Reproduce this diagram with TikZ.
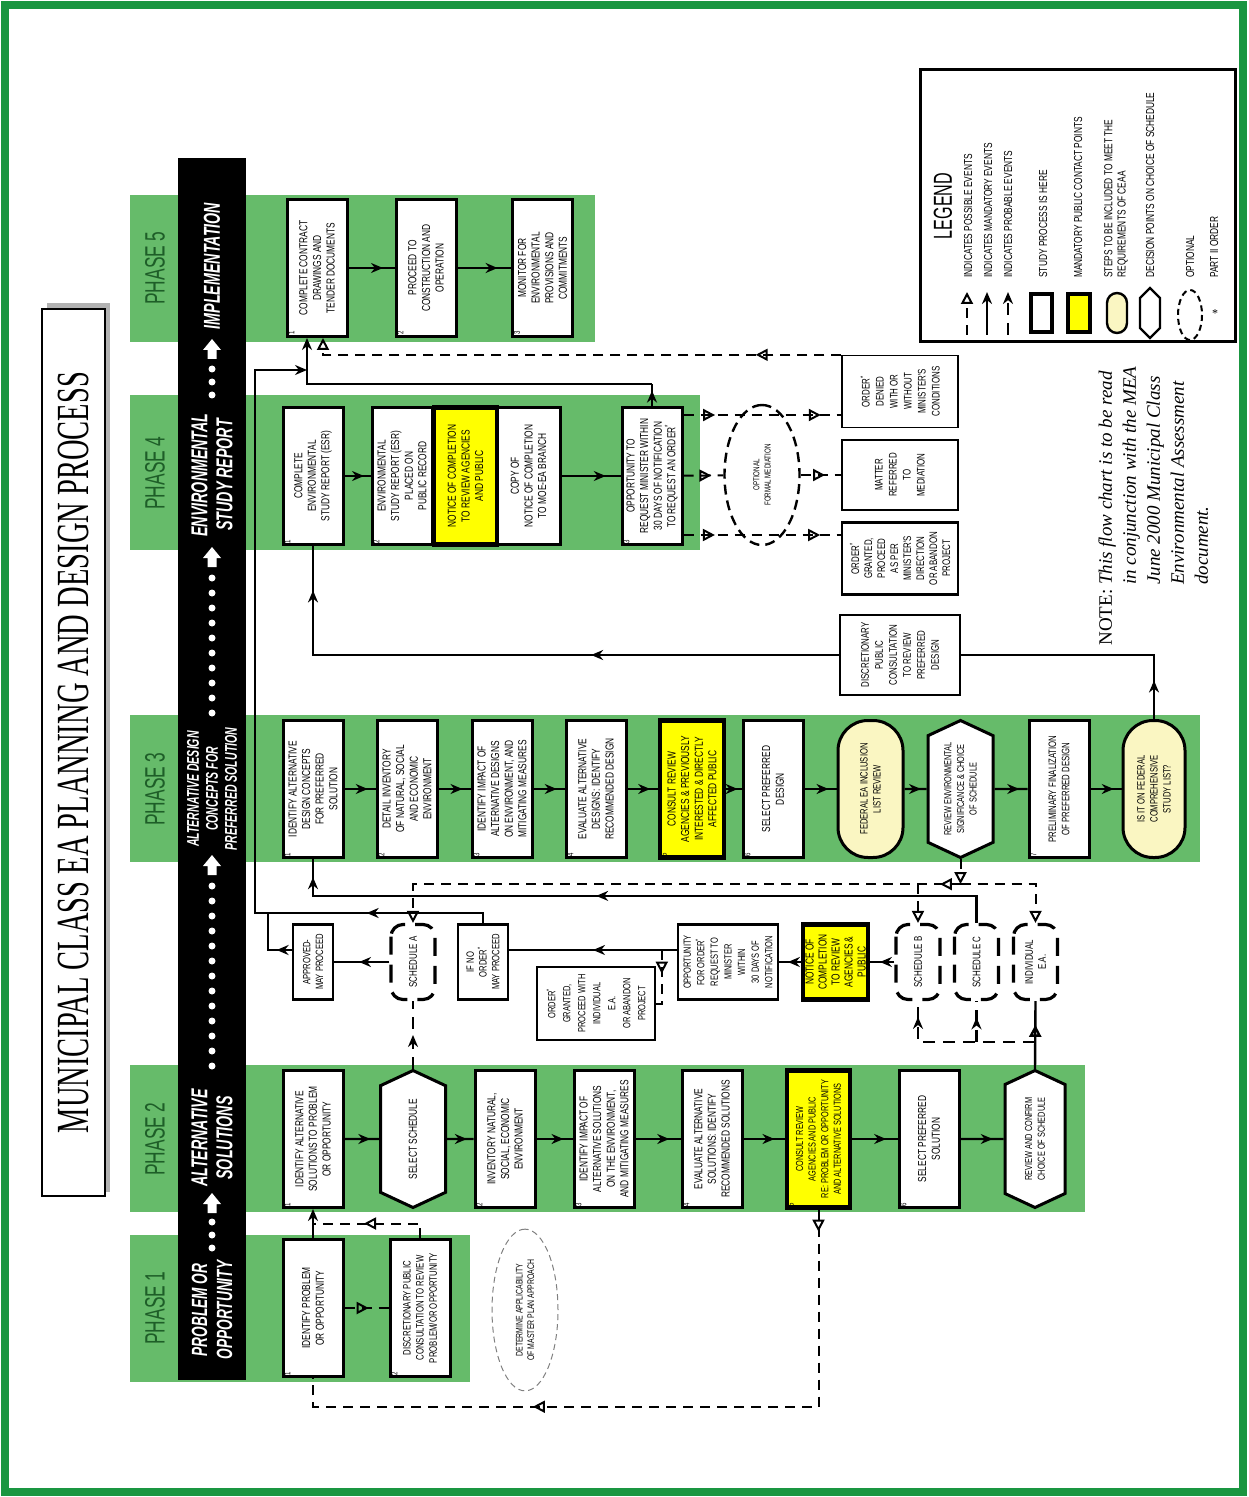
\documentclass[tikz,border=0pt]{standalone}
\usepackage{fontspec}
\setmainfont{Liberation Serif}
\newfontfamily\narsf[FakeStretch=0.72]{Liberation Sans}
\newfontfamily\consf[FakeStretch=0.62]{Liberation Sans}
\usetikzlibrary{shapes.symbols,shapes.geometric,arrows.meta,decorations.markings,calc}
\definecolor{band}{HTML}{66BB6A}
\definecolor{edgegreen}{HTML}{1A9641}
\definecolor{phgreen}{HTML}{1E5E28}
\definecolor{cream}{HTML}{FAF6C2}
\definecolor{ylw}{HTML}{FFFF00}
\newcommand{\fsz}[2]{\fontsize{#1}{#2}\selectfont}

\begin{document}
\begin{tikzpicture}[x=0.5pt,y=-0.5pt,
  box/.style={draw,line width=1.5pt,fill=white,rotate=90,align=center,font=\narsf\fsz{5.8}{6.8},inner sep=1pt,minimum width=68.5pt,minimum height=30pt},
  ybox/.style={box,fill=ylw,line width=2.2pt},
  cbox/.style={box,fill=cream,rounded corners=15pt,font=\narsf\fsz{5.3}{6.5}},
  hbox/.style={box,signal,signal to=east and west,signal pointer angle=130,font=\narsf\fsz{5.1}{6.3}},
  sbox/.style={draw,line width=1.2pt,fill=white,rotate=90,align=center,font=\narsf\fsz{5.3}{6.4},inner sep=1pt,minimum width=37.5pt,minimum height=20pt},
  obox/.style={sbox,line width=.7pt,font=\narsf\fsz{5.5}{7},minimum width=36pt,minimum height=58pt},
  sched/.style={draw,line width=1.6pt,dash pattern=on 9pt off 5pt,rounded corners=6pt,rotate=90,align=center,font=\narsf\fsz{5.5}{6.5},inner sep=1pt,minimum width=37.5pt,minimum height=22pt},
  num/.style={label={[rotate=90,anchor=north west,font=\narsf\fsz{4.2}{4.5},inner sep=1.3pt]north west:#1}},
  ph/.style={rotate=90,text=phgreen,font=\consf\fsz{14}{14}},
  bart/.style={rotate=90,text=white,align=center,inner sep=0pt,font=\consf\bfseries\itshape\fsz{11.5}{12.5}},
  legt/.style={rotate=90,anchor=west,align=left,inner sep=0pt,font=\narsf\fsz{5.8}{6.6}},
  mand/.style={line width=1.2pt},
  poss/.style={line width=1pt,dash pattern=on 5pt off 3.5pt},
  prob/.style={line width=1.2pt,dash pattern=on 6pt off 4pt},
  fa/.style={postaction={decorate,decoration={markings,mark=at position #1 with {\pgfsetdash{}{0pt}\arrow{Stealth[length=6pt,width=5pt]}}}}},
  oa/.style={postaction={decorate,decoration={markings,mark=at position #1 with {\pgfsetdash{}{0pt}\arrow{Triangle[open,length=6pt,width=6pt]}}}}},
  ftip/.style={-{Stealth[length=6pt,width=5pt]}},
  otip/.style={-{Triangle[open,length=6pt,width=6pt]}}]
\useasboundingbox (0,0) rectangle (1248,1497);
\draw[edgegreen,line width=4pt] (5,5) rectangle (1243,1492);
% title
\fill[gray!60] (47,303) rectangle (110,1192);
\node[draw,thick,fill=white,rotate=90,minimum width=443.5pt,minimum height=31.5pt,font=\fsz{23}{23}] (ttl) at (73.5,752.5) {\scalebox{0.62}[1]{MUNICIPAL CLASS EA PLANNING AND DESIGN PROCESS}};
% phase bands and black bar
\fill[band] (130,195) rectangle (595,342);\fill[band] (130,395) rectangle (700,550);\fill[band] (130,715) rectangle (1200,862);
\fill[band] (130,1065) rectangle (1085,1212);\fill[band] (130,1235) rectangle (470,1382);
\node[ph] at (155,268) {PHASE 5};\node[ph] at (155,473) {PHASE 4};\node[ph] at (155,789) {PHASE 3};\node[ph] at (155,1139) {PHASE 2};\node[ph] at (155,1308) {PHASE 1};
\fill (178,158) rectangle (246,1380);
\node[bart] at (212,266) {IMPLEMENTATION};
\node[bart] at (212,475) {ENVIRONMENTAL\\STUDY REPORT};
\node[bart,font=\consf\bfseries\itshape\fsz{8.5}{9.5}] at (212,789) {ALTERNATIVE DESIGN\\CONCEPTS FOR\\PREFERRED SOLUTION};
\node[bart] at (212,1138) {ALTERNATIVE\\SOLUTIONS};
\node[bart,font=\consf\bfseries\itshape\fsz{11}{12.5}] at (212,1310) {PROBLEM OR\\OPPORTUNITY};
\foreach \y in {369,382,395,578,593,...,713,886,901,...,1066,1222,1235,1248} \fill[white] (212,\y) circle[radius=3.5];
\foreach \t in {339,547,855,1193} \fill[white] (212,\t) -- ++(9,11) -- ++(-4.5,0) -- ++(0,9) -- ++(-9,0) -- ++(0,-9) -- ++(-4.5,0) -- cycle;
% phase 5
\node[box,num=1] (p5a) at (317,268) {COMPLETE CONTRACT\\DRAWINGS AND\\TENDER DOCUMENTS};
\node[box,num=2] (p5b) at (426,268) {PROCEED TO\\CONSTRUCTION AND\\OPERATION};
\node[box,num=3] (p5c) at (542.5,268) {MONITOR FOR\\ENVIRONMENTAL\\PROVISIONS AND\\COMMITMENTS};
% phase 4
\node[box,num=1] (p4a) at (313,476) {COMPLETE\\ENVIRONMENTAL\\STUDY REPORT (ESR)};
\node[box,num=2] (p4b) at (402,476) {ENVIRONMENTAL\\STUDY REPORT (ESR)\\PLACED ON\\PUBLIC RECORD};
\node[ybox,minimum height=31.5pt] (p4n) at (465.5,476) {NOTICE OF COMPLETION\\TO REVIEW AGENCIES\\AND PUBLIC};
\node[box,minimum height=31.5pt] (p4c) at (528.5,476) {COPY OF\\NOTICE OF COMPLETION\\TO MOE-EA BRANCH};
\node[box,num=3] (p4d) at (652,476) {OPPORTUNITY TO\\REQUEST MINISTER WITHIN\\30 DAYS OF NOTIFICATION\\TO REQUEST AN ORDER\textsuperscript{*}};
\node[ellipse,draw,line width=1.2pt,dash pattern=on 5pt off 3pt,rotate=90,minimum width=70pt,minimum height=37.5pt,align=center,font=\narsf\fsz{4.3}{5.6}] (med) at (762,475) {OPTIONAL\\FORMAL MEDIATION};
\node[obox] (ordd) at (900,391.5) {ORDER\textsuperscript{*}\\DENIED\\WITH OR\\WITHOUT\\MINISTER'S\\CONDITIONS};
\node[obox,minimum width=35pt] (mat) at (900,475) {MATTER\\REFERRED\\TO\\MEDIATION};
\node[obox,line width=1.4pt,font=\narsf\fsz{5.5}{6.5}] (ordgr) at (900,558.5) {ORDER\textsuperscript{*}\\GRANTED,\\PROCEED\\AS PER\\MINISTER'S\\DIRECTION\\OR ABANDON\\PROJECT};
\node[obox,line width=1.4pt,minimum width=40pt,minimum height=60pt] (disc) at (900,655) {DISCRETIONARY\\PUBLIC\\CONSULTATION\\TO REVIEW\\PREFERRED\\DESIGN};
% phase 3
\node[box,num=1] (p3a) at (313,789) {IDENTIFY ALTERNATIVE\\DESIGN CONCEPTS\\FOR PREFERRED\\SOLUTION};
\node[box,num=2] (p3b) at (407,789) {DETAIL INVENTORY\\OF NATURAL, SOCIAL\\AND ECONOMIC\\ENVIRONMENT};
\node[box,num=3] (p3c) at (502,789) {IDENTIFY IMPACT OF\\ALTERNATIVE DESIGNS\\ON ENVIRONMENT, AND\\MITIGATING MEASURES};
\node[box,num=4] (p3d) at (596,789) {EVALUATE ALTERNATIVE\\DESIGNS: IDENTIFY\\RECOMMENDED DESIGN};
\node[ybox,num=5,minimum height=32pt] (p3e) at (692,789) {CONSULT REVIEW\\AGENCIES \& PREVIOUSLY\\INTERESTED \& DIRECTLY\\AFFECTED PUBLIC};
\node[box,num=6] (p3f) at (773,789) {SELECT PREFERRED\\DESIGN};
\node[cbox,minimum height=32.5pt] (p3g) at (870.5,789) {FEDERAL EA INCLUSION\\LIST REVIEW};
\node[hbox,minimum height=32.5pt] (p3h) at (960.5,789) {REVIEW ENVIRONMENTAL\\SIGNIFICANCE \& CHOICE\\OF SCHEDULE};
\node[box,num=7,font=\narsf\fsz{5.4}{6.6}] (p3i) at (1059,789) {PRELIMINARY FINALIZATION\\OF PREFERRED DESIGN};
\node[cbox,minimum height=31pt] (p3j) at (1154,789) {IS IT ON FEDERAL\\COMPREHENSIVE\\STUDY LIST?};
% phase 2
\node[box,num=1] (p2a) at (313,1139) {IDENTIFY ALTERNATIVE\\SOLUTIONS TO PROBLEM\\OR OPPORTUNITY};
\node[hbox,minimum height=32.5pt,font=\narsf\fsz{5.8}{6.8}] (p2b) at (413,1139) {SELECT SCHEDULE};
\node[box,num=2] (p2c) at (505,1139) {INVENTORY NATURAL,\\SOCIAL, ECONOMIC\\ENVIRONMENT};
\node[box,num=3] (p2d) at (604,1139) {IDENTIFY IMPACT OF\\ALTERNATIVE SOLUTIONS\\ON THE ENVIRONMENT,\\AND MITIGATING MEASURES};
\node[box,num=4] (p2e) at (712,1139) {EVALUATE ALTERNATIVE\\SOLUTIONS: IDENTIFY\\RECOMMENDED SOLUTIONS};
\node[ybox,num=5,minimum height=31.5pt,font=\narsf\fsz{5.1}{6.3}] (p2f) at (818.5,1139) {CONSULT REVIEW\\AGENCIES AND PUBLIC\\RE: PROBLEM OR OPPORTUNITY\\AND ALTERNATIVE SOLUTIONS};
\node[box,num=6] (p2g) at (929,1139) {SELECT PREFERRED\\SOLUTION};
\node[hbox] (p2h) at (1035,1139) {REVIEW AND CONFIRM\\CHOICE OF SCHEDULE};
% phase 1
\node[box,num=1] (p1a) at (313,1308) {IDENTIFY PROBLEM\\OR OPPORTUNITY};
\node[box,num=2,font=\narsf\fsz{5.4}{6.6}] (p1b) at (420,1308) {DISCRETIONARY PUBLIC\\CONSULTATION TO REVIEW\\PROBLEM/OR OPPORTUNITY};
\node[ellipse,draw=gray,line width=.5pt,dash pattern=on 3pt off 2pt,rotate=90,minimum width=75pt,minimum height=33pt,align=center,font=\narsf\fsz{4.8}{5.8}] (mpa) at (525,1310) {DETERMINE APPLICABILITY\\OF MASTER PLAN APPROACH};
% schedules and orders
\node[sbox] (apr) at (313,962) {APPROVED-\\MAY PROCEED};
\node[sched] (schA) at (413,962) {SCHEDULE A};
\node[sbox,minimum height=25pt] (ifno) at (483,962) {IF NO\\ORDER\textsuperscript{*}\\MAY PROCEED};
\node[sbox,minimum width=36.5pt,minimum height=59pt,font=\narsf\fsz{5.2}{7.5}] (ordg) at (596,1003.5) {ORDER\textsuperscript{*}\\GRANTED,\\PROCEED WITH\\INDIVIDUAL\\E.A.\\OR ABANDON\\PROJECT};
\node[sbox,minimum height=50pt,font=\narsf\fsz{5.2}{6.8}] (opp) at (728,962) {OPPORTUNITY\\FOR ORDER\textsuperscript{*}\\REQUEST TO\\MINISTER\\WITHIN\\30 DAYS OF\\NOTIFICATION};
\node[sbox,fill=ylw,line width=2.2pt,minimum height=32.5pt,font=\narsf\fsz{5.8}{6.5}] (noc) at (835.5,962) {NOTICE OF\\COMPLETION\\TO REVIEW\\AGENCIES \&\\PUBLIC};
\node[sched] (schB) at (918,962) {SCHEDULE B};
\node[sched] (schC) at (976.5,962) {SCHEDULE C};
\node[sched] (iea) at (1035.5,962) {INDIVIDUAL\\E.A.};
% connectors in the phases
\draw[mand,fa=.75] (p5a)--(p5b);\draw[mand,fa=.75] (p5b)--(p5c);
\draw[mand,fa=.75] (p4a)--(p4b);\draw[mand,fa=.75] (p4c)--(p4d);
\draw[mand,fa=.75] (p3a)--(p3b);\draw[mand,fa=.75] (p3b)--(p3c);\draw[mand,fa=.75] (p3c)--(p3d);\draw[mand,fa=.75] (p3d)--(p3e);\draw[mand,fa=.75] (p3e)--(p3f);
\draw[mand,fa=.75] (p3f)--(p3g);\draw[mand,fa=.75] (p3g)--(p3h);\draw[mand,fa=.75] (p3h)--(p3i);\draw[mand,fa=.75] (p3i)--(p3j);
\draw[mand,fa=.75] (p2a)--(p2b);\draw[mand,fa=.75] (p2b)--(p2c);\draw[mand,fa=.75] (p2c)--(p2d);\draw[mand,fa=.75] (p2d)--(p2e);
\draw[mand,fa=.75] (p2e)--(p2f);\draw[mand,fa=.75] (p2f)--(p2g);\draw[mand,fa=.75] (p2g)--(p2h);
% phase 1 to phase 2
\draw[mand,ftip] (p1a.east)--(p2a.west);
\coordinate (m12) at ($(p1a.east)!.5!(p2a.west)$);
\draw[poss,oa=.58] (p1b.east) |- (m12);
\draw[poss,oa=.55] (p1a)--(p1b);
\draw[poss,oa=.03,oa=.66] (p2f.west) -- ++(0,197) -| (p1a.west);
% schedules
\draw[prob,fa=.5] (p2b.east)--(schA.west);
\draw[mand,oa=.65] (p2h.east)--(iea.west);
\draw[prob,fa=.9] ($(p2h.east)+(0,-27)$) coordinate (dk) -| (schB.west);
\draw[prob,fa=.6] (schC.west |- dk)--(schC.west);
\draw[poss,otip] (p3h.west) -- ++(0,25) coordinate (dj);
\draw[poss,oa=.035,otip] (dj) -| (schA.east);
\draw[poss,otip] (dj) -| (iea.east);
\draw[poss,otip] (schB.east |- dj)--(schB.east);
\draw[mand,fa=.55] (schA)--(apr);
\draw[mand,fa=.6] (schB)--(noc);\draw[mand,fa=.6] (noc)--(opp);
\draw[mand,fa=.5] ([yshift=6pt]opp.north)--([yshift=6pt]ifno.south);
\draw[poss,oa=.4] ([xshift=-7.5pt,yshift=6pt]opp.north) |- (ordg.south);
\draw[mand,fa=.56,fa=.975] (schC.east) -- ++(0,-27) -| (p3a.west);
% to phase 4 and 5
\coordinate (bus) at (255,913);\coordinate (bus2) at (268,913);\coordinate (j5) at (307,370);
\draw[mand,fa=.152,ftip] (ifno.east) |- (bus) -- (bus |- j5) -- (j5);
\draw[mand,fa=.25] ([yshift=6pt]apr.north) -| (bus2);
\draw[mand,fa=.15] (p3j.east) |- (disc.south);
\draw[mand,fa=.39,fa=.93] (disc.north) -| (p4a.west);
\draw[mand,fa=.7] (p4d.east) -- ++(0,-22) coordinate (c4);
\draw[mand,ftip] (c4) -| ([xshift=-5pt]p5a.west);
\draw[poss,oa=.2,oa=.87] ($(p4d.south)+(0,-61)$) coordinate (t1) -- (ordd.north |- t1);
\draw[poss,oa=.7] (p4d)--(med);\draw[poss,oa=.6] (med)--(mat);
\draw[poss,oa=.2,oa=.87] ($(p4d.south)+(0,59)$) coordinate (t3) -- (ordgr.north |- t3);
\draw[poss,oa=.16,otip] (ordd.north east) -| ([xshift=3pt]p5a.west);
% legend
\draw[line width=1.5pt] (920,70) rectangle (1235,342);
\node[rotate=90,font=\consf\fsz{13}{13}] at (943,206) {LEGEND};
\draw[poss,otip] (967,335)--(967,292);\draw[mand,ftip] (987,335)--(987,292);\draw[prob,ftip] (1008,335)--(1008,292);
\draw[line width=2.2pt,fill=white] (1031,294) rectangle (1052,332);
\draw[line width=2.2pt,fill=ylw] (1068,294) rectangle (1090,332);
\draw[line width=1.2pt,fill=cream,rounded corners=5pt] (1107,293) rectangle (1127,333);
\draw[line width=1.2pt] (1150,288) -- (1160,298) -- (1160,328) -- (1150,338) -- (1140,328) -- (1140,298) -- cycle;
\draw[line width=1pt,dash pattern=on 3pt off 2pt] (1190,315) ellipse [x radius=12,y radius=25];
\node[font=\fsz{6}{6}] at (1215,314) {*};
\node[legt] at (968,278) {INDICATES POSSIBLE EVENTS};
\node[legt] at (988,278) {INDICATES MANDATORY EVENTS};
\node[legt] at (1008,278) {INDICATES PROBABLE EVENTS};
\node[legt] at (1043,278) {STUDY PROCESS IS HERE};
\node[legt] at (1078,278) {MANDATORY PUBLIC CONTACT POINTS};
\node[legt] at (1116,278) {STEPS TO BE INCLUDED TO MEET THE\\REQUIREMENTS OF CEAA};
\node[legt] at (1150,278) {DECISION POINTS ON CHOICE OF SCHEDULE};
\node[legt] at (1190,278) {OPTIONAL};
\node[legt] at (1214,278) {PART II ORDER};
% note
\node[rotate=90,anchor=north west,align=left,inner sep=0pt,font=\fsz{9.5}{12}] (note) at (1098,646) {NOTE: \textit{This flow chart is to be read}\\\phantom{NOTE: }\textit{in conjunction with the MEA}\\\phantom{NOTE: }\textit{June 2000 Municipal Class}\\\phantom{NOTE: }\textit{Environmental Assessment}\\\phantom{NOTE: }\textit{document.}};
\end{tikzpicture}
\end{document}
